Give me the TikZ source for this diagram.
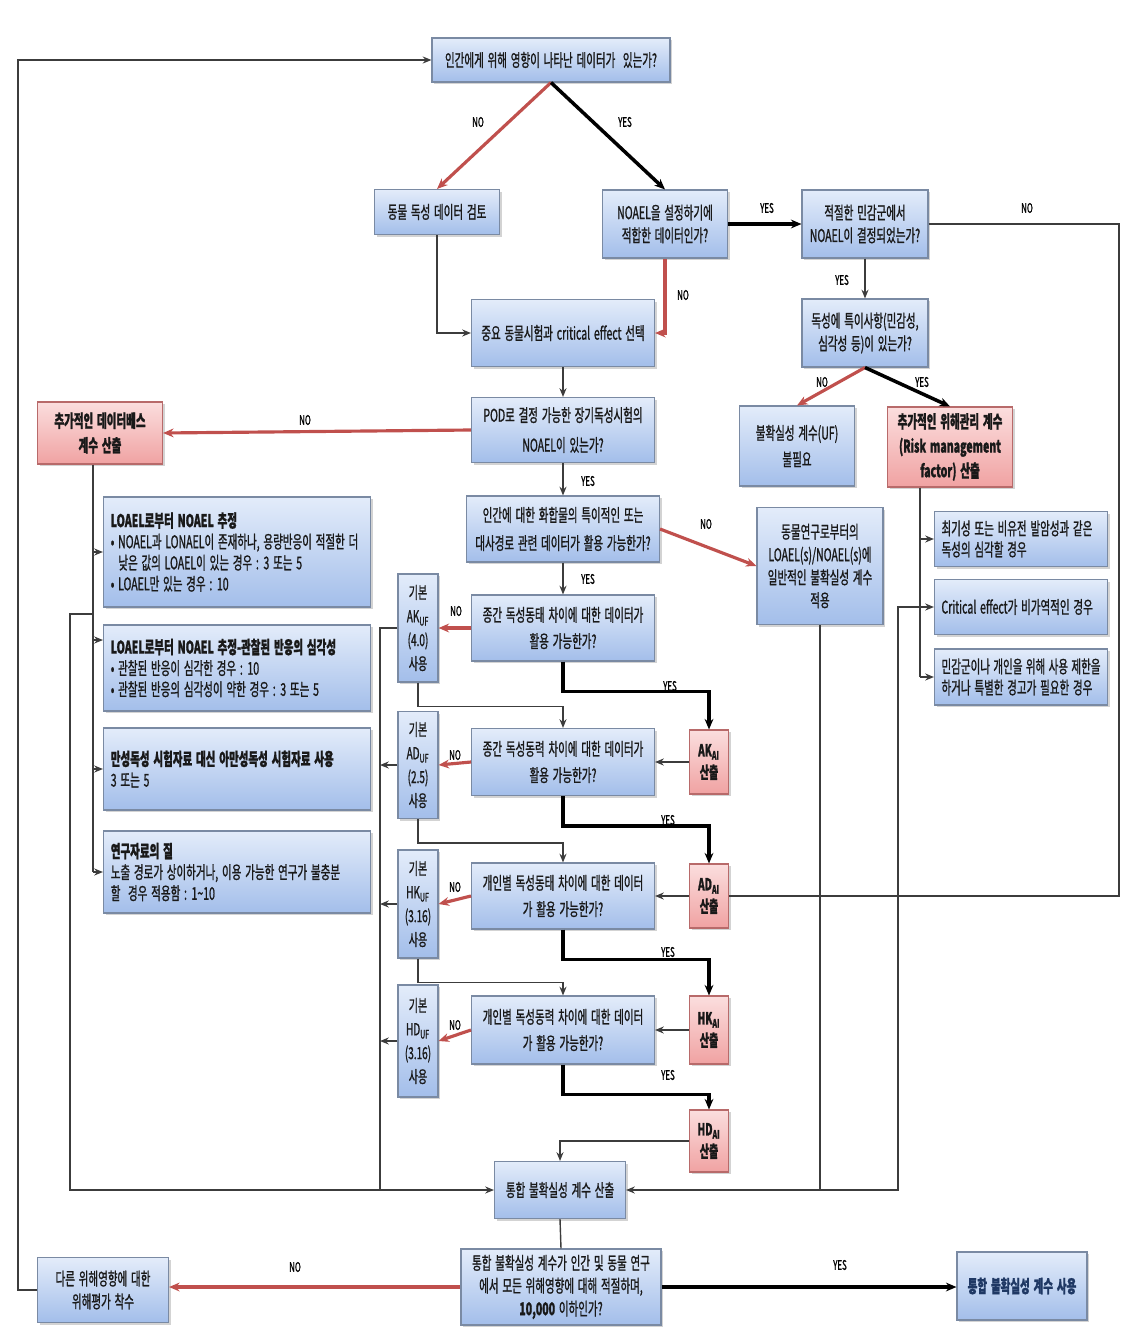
\documentclass[tikz,border=0pt]{standalone}
\usepackage{fontspec}
\setmainfont{Noto Sans CJK KR}[FakeStretch=0.6, FakeBold=1, WordSpace=1.6]
\usepackage{tikz}
\usetikzlibrary{%
  arrows.meta,
  calc,
  positioning,
  shadows
}

\definecolor{boxtop}{HTML}{E3ECFA}
\definecolor{boxbot}{HTML}{A3BEEA}
\definecolor{boxline}{HTML}{7A8AA3}
\definecolor{redtop}{HTML}{FBDEDE}
\definecolor{redbot}{HTML}{F0A2A2}
\definecolor{redline}{HTML}{B86A6A}
\definecolor{nocolor}{HTML}{C0504D}
\definecolor{flowgray}{HTML}{3C3C3C}
\definecolor{navytext}{HTML}{1F3864}

\tikzset{
  basebox/.style={draw=boxline, line width=0.6pt, align=center, inner sep=2pt,
    font=\fontsize{10}{15}\selectfont, text=black!90,
    drop shadow={shadow xshift=1.2pt, shadow yshift=-1.2pt, opacity=0.35}},
  bluebox/.style={basebox, top color=boxtop, bottom color=boxbot},
  redbox/.style={basebox, draw=redline, top color=redtop, bottom color=redbot,
    font=\fontsize{10}{14}\selectfont\bfseries},
  sz/.style 2 args={minimum width=#1*0.02cm, minimum height=#2*0.02cm},
  notebox/.style={bluebox, align=left, inner xsep=4pt, text width=#1,
    font=\fontsize{10}{12}\selectfont,
    execute at begin node={\spaceskip=0pt\xspaceskip=0pt\relax}},
  ufbox/.style={bluebox, inner sep=0pt, font=\fontsize{9.5}{13.5}\selectfont},
  aibox/.style={redbox, inner sep=0pt, font=\fontsize{9.5}{12.5}\selectfont\bfseries},
  wire/.style={draw=flowgray, line width=0.8pt},
  flow/.style={wire, -{Stealth[length=5pt, width=4pt]}},
  yesline/.style={draw=black, line width=2pt, -{Stealth[length=6pt, width=5pt]}},
  noline/.style={draw=nocolor, line width=1.8pt, -{Stealth[length=6pt, width=5pt]}},
  yn/.style={font=\fontsize{7.5}{8}\selectfont, inner sep=1pt}
}

\begin{document}
\begin{tikzpicture}[x=0.02cm, y=-0.02cm]
  \useasboundingbox (0,0) rectangle (1125,1335);

  % main column
  \node[bluebox, sz={238}{44}] (top) at (551,60) {인간에게 위해 영향이 나타난 데이터가 \ 있는가?};
  \node[bluebox, sz={125}{45}] (animal) at (437,212) {동물 독성 데이터 검토};
  \node[bluebox, sz={125}{68}, font=\fontsize{10}{13}\selectfont] (noael) at (665,224) {NOAEL을 설정하기에\\적합한 데이터인가?};
  \node[bluebox, sz={126}{68}, font=\fontsize{10}{13}\selectfont] (sens) at (865,224) {적절한 민감군에서\\NOAEL이 결정되었는가?};
  \node[bluebox, sz={126}{68}, font=\fontsize{10}{13}\selectfont] (spec) at (865,333) {독성에 특이사항(민감성,\\심각성 등)이 있는가?};
  \node[bluebox, sz={183}{67}] (crit) at (563,333) {중요 동물시험과 critical effect 선택};
  \node[bluebox, sz={183}{65}, font=\fontsize{10}{17}\selectfont] (pod) at (563,430) {POD로 결정 가능한 장기독성시험의\\NOAEL이 있는가?};
  \node[bluebox, sz={115}{80}] (nouf) at (797,446) {불확실성 계수(UF)\\불필요};
  \node[redbox, sz={125}{80}] (rmf) at (950,447) {추가적인 위해관리 계수\\(Risk management\\factor) 산출};
  \node[redbox, sz={125}{62}] (addb) at (100,433) {추가적인 데이터베스\\계수 산출};
  \node[bluebox, sz={193}{66}, font=\fontsize{10}{16}\selectfont] (human) at (563,529) {인간에 대한 화합물의 특이적인 또는\\대사경로 관련 데이터가 활용 가능한가?};
  \node[bluebox, sz={126}{117}, font=\fontsize{10}{13}\selectfont] (general) at (820,566) {동물연구로부터의\\LOAEL(s)/NOAEL(s)에\\일반적인 불확실성 계수\\적용};

  % risk management notes
  \node[notebox=3.18cm, sz={173}{55}] (rA) at (1021,539) {최기성 또는 비유전 발암성과 같은\\독성의 심각할 경우};
  \node[notebox=3.18cm, sz={173}{55}] (rB) at (1021,607) {Critical effect가 비가역적인 경우};
  \node[notebox=3.18cm, sz={173}{56}] (rC) at (1021,677) {민감군이나 개인을 위해 사용 제한을\\하거나 특별한 경고가 필요한 경우};

  % database factor notes
  \node[notebox=5.05cm, sz={267}{110}] (lA) at (237,552) {\textbf{LOAEL로부터 NOAEL 추정}\\• NOAEL과 LONAEL이 존재하나, 용량반응이 적절한 더\\\ \ 낮은 값의 LOAEL이 있는 경우 : 3 또는 5\\• LOAEL만 있는 경우 : 10};
  \node[notebox=5.05cm, sz={267}{86}] (lB) at (237,668) {\textbf{LOAEL로부터 NOAEL 추정-관찰된 반응의 심각성}\\• 관찰된 반응이 심각한 경우 : 10\\• 관찰된 반응의 심각성이 약한 경우 : 3 또는 5};
  \node[notebox=5.05cm, sz={267}{82}] (lC) at (237,769) {\textbf{만성독성 시험자료 대신 아만성독성 시험자료 사용}\\3 또는 5};
  \node[notebox=5.05cm, sz={267}{82}] (lD) at (237,872) {\textbf{연구자료의 질}\\노출 경로가 상이하거나, 이용 가능한 연구가 불충분\\할 \ 경우 적용함 : 1\textasciitilde10};

  % uncertainty factor steps
  \node[bluebox, sz={183}{66}] (qAK) at (563,628) {종간 독성동태 차이에 대한 데이터가\\활용 가능한가?};
  \node[bluebox, sz={183}{67}] (qAD) at (563,762) {종간 독성동력 차이에 대한 데이터가\\활용 가능한가?};
  \node[bluebox, sz={183}{66}] (qHK) at (563,896) {개인별 독성동태 차이에 대한 데이터\\가 활용 가능한가?};
  \node[bluebox, sz={183}{68}] (qHD) at (563,1030) {개인별 독성동력 차이에 대한 데이터\\가 활용 가능한가?};

  \node[ufbox, sz={40}{108}] (ufAK) at (418,628) {기본\\AK\textsubscript{UF}\\(4.0)\\사용};
  \node[ufbox, sz={40}{107}] (ufAD) at (418,765) {기본\\AD\textsubscript{UF}\\(2.5)\\사용};
  \node[ufbox, sz={40}{108}] (ufHK) at (418,904) {기본\\HK\textsubscript{UF}\\(3.16)\\사용};
  \node[ufbox, sz={40}{112}] (ufHD) at (418,1041) {기본\\HD\textsubscript{UF}\\(3.16)\\사용};

  \node[aibox, sz={39}{64}] (aiAK) at (709,762) {AK\textsubscript{AI}\\산출};
  \node[aibox, sz={39}{64}] (aiAD) at (709,896) {AD\textsubscript{AI}\\산출};
  \node[aibox, sz={39}{68}] (aiHK) at (709,1030) {HK\textsubscript{AI}\\산출};
  \node[aibox, sz={39}{62}] (aiHD) at (709,1141) {HD\textsubscript{AI}\\산출};

  % combination
  \node[bluebox, sz={131}{57}] (total) at (560,1190) {통합 불확실성 계수 산출};
  \node[bluebox, sz={200}{76}, font=\fontsize{10}{13}\selectfont] (final) at (561,1287) {통합 불확실성 계수가 인간 및 동물 연구\\에서 모든 위해영향에 대해 적절하며,\\\textbf{10,000} 이하인가?};
  \node[bluebox, sz={131}{65}, font=\fontsize{10}{13}\selectfont] (other) at (103,1290) {다른 위해영향에 대한\\위해평가 착수};
  \node[bluebox, sz={130}{68}, font=\fontsize{10}{13}\selectfont\bfseries, text=navytext] (use) at (1022,1286) {통합 불확실성 계수 사용};

  % helper points
  \coordinate (loop) at (18,60);
  \coordinate (rr) at (1119,896);
  \coordinate (dbx) at (93,614);
  \coordinate (botL) at (70,1190);
  \coordinate (ufx) at (380,628);
  \coordinate (botR) at (898,1190);
  \coordinate (rmx) at (920,487);

  % connectors
  \draw[noline] (top.south) -- (animal.north);
  \draw[yesline] (top.south) -- (noael.north);
  \draw[yesline] (noael.east) -- (sens.west);
  \draw[wire] (sens.east) -| (rr) -- (aiAD.east);
  \draw[flow] (sens.south) -- (spec.north);
  \draw[noline] (spec.south) -- (nouf.north);
  \draw[yesline] (spec.south) -- (rmf.north);
  \draw[noline] (noael.south) |- (crit.east);
  \draw[flow] (animal.south) |- (crit.west);
  \draw[flow] (crit.south) -- (pod.north);
  \draw[noline] (pod.west) -- (addb.east);
  \draw[flow] (pod.south) -- (human.north);
  \draw[noline] (human.east) -- (general.west);
  \draw[flow] (human.south) -- (qAK.north);

  \foreach \a in {AK, AD, HK, HD} {
    \draw[noline] (q\a.west) -- (uf\a.east);
    \draw[yesline] (q\a.south) -- ++(0,30) -| (ai\a.north);
  }
  \foreach \a/\b in {AK/AD, AD/HK, HK/HD} {
    \draw[flow] (uf\a.south) -- ++(0,24) -| (q\b.north);
    \draw[flow] (ai\a.west) -- (q\b.east);
  }
  \draw[flow] (aiHD.west) -| (total.north);

  % default factors to the combination
  \draw[wire] (ufAK.west) -- (ufx) -- (ufx |- total.west);
  \foreach \a in {AD, HK, HD}
    \draw[flow] (uf\a.west) -- (uf\a.west -| ufx);

  % database factor branch
  \draw[wire] (addb.south -| dbx) -- (dbx |- lD.west);
  \draw[flow] (dbx |- lA.west) -- (lA.west);
  \draw[flow] ([yshift=0.56cm]dbx |- lB.west) -- ([yshift=0.56cm]lB.west);
  \draw[flow] (dbx |- lC.west) -- (lC.west);
  \draw[flow] (dbx |- lD.west) -- (lD.west);
  \draw[flow] (dbx) -| (botL) -- (total.west);

  % risk management branch
  \draw[wire] (rmf.south -| rmx) -- (rmx |- rC.west);
  \draw[flow] (rmx |- rA.west) -- (rA.west);
  \draw[flow] (rmx |- rC.west) -- (rC.west);
  \draw[flow] (general.south) |- (total.east);
  \draw[flow] (general.south |- total.east) -- (botR) |- (rB.west);

  % final decision
  \draw[wire] (total.south) -- (final.north);
  \draw[noline] (final.west) -- (final.west -| other.east);
  \draw[yesline] (final.east) -- (final.east -| use.west);
  \draw[flow] (other.west) -| (loop) -- (top.west);

  % yes / no labels
  \node[yn] (n1) at (478,122) {NO};
  \node[yn] (y1) at (625,122) {YES};
  \node[yn] (y2) at (767,208) {YES};
  \node[yn] (n2) at (1027,208) {NO};
  \node[yn] (y3) at (842,280) {YES};
  \node[yn] (n3) at (683,295) {NO};
  \node[yn] (n4) at (822,382) {NO};
  \node[yn] (y4) at (922,382) {YES};
  \node[yn] (n5) at (305,420) {NO};
  \node[yn] (y5) at (588,481) {YES};
  \node[yn] (n6) at (706,524) {NO};
  \node[yn] (y6) at (588,579) {YES};
  \node[yn] (n7) at (456,611) {NO};
  \node[yn] (n8) at (455,755) {NO};
  \node[yn] (n9) at (455,887) {NO};
  \node[yn] (n10) at (455,1025) {NO};
  \node[yn] (y7) at (670,686) {YES};
  \node[yn] (y8) at (668,820) {YES};
  \node[yn] (y9) at (668,952) {YES};
  \node[yn] (y10) at (668,1075) {YES};
  \node[yn] (n11) at (295,1267) {NO};
  \node[yn] (y11) at (840,1265) {YES};
\end{tikzpicture}
\end{document}
